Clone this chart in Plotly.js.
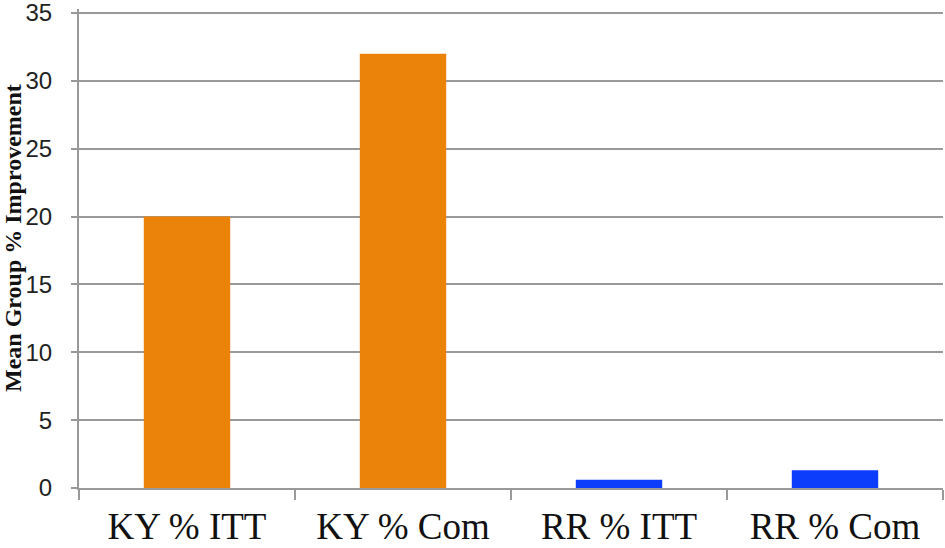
<!DOCTYPE html>
<html>
<head>
<meta charset="utf-8">
<script src="https://cdn.plot.ly/plotly-3.0.1.min.js"></script>
<style>
  html, body { margin: 0; padding: 0; background: #fff; }
  #chart { width: 945px; height: 548px; }
</style>
</head>
<body>
<div id="chart"></div>
<script>
const categories = ["KY % ITT", "KY % Com", "RR % ITT", "RR % Com"];
const improvement = [20, 32, 0.6, 1.3];
const barColors = ["#EB830B", "#EB830B", "#0B3DFB", "#0B3DFB"];
const yTicks = [0, 5, 10, 15, 20, 25, 30, 35];
const yTitle = "Mean Group % Improvement";

Plotly.newPlot("chart", [
    {
        type: "bar",
        x: categories,
        y: improvement,
        width: 0.4,
        marker: { color: barColors },
        hoverinfo: "x+y"
    }
], {
    width: 945,
    height: 548,
    margin: { l: 79, r: 2, t: 9, b: 60 },
    paper_bgcolor: "#fff",
    plot_bgcolor: "#fff",
    showlegend: false,
    xaxis: {
        type: "category",
        showline: true,
        linecolor: "#999",
        linewidth: 2,
        ticks: "outside",
        tickson: "boundaries",
        ticklen: 10,
        tickwidth: 2,
        tickcolor: "#999",
        showgrid: false,
        ticklabelstandoff: 5,
        tickfont: { family: "Liberation Serif, Times New Roman, serif", size: 37, color: "#111" }
    },
    yaxis: {
        // a little headroom so the 35 gridline is drawn
        range: [0, 35.3],
        tickvals: yTicks,
        showline: true,
        linecolor: "#999",
        linewidth: 2,
        ticks: "outside",
        ticklen: 6,
        tickwidth: 2,
        tickcolor: "#999",
        showgrid: true,
        gridcolor: "#999",
        gridwidth: 2,
        zeroline: false,
        ticklabelstandoff: 14,
        ticklabeloverflow: "allow",
        tickfont: { family: "Liberation Sans, Arial, sans-serif", size: 24, color: "#222" }
    },
    // axis title placed by hand: ticklabelstandoff pushes the built-in one onto the labels
    annotations: [
        {
            text: "<b>" + yTitle + "</b>",
            xref: "paper",
            yref: "paper",
            x: 0,
            y: 0.522,
            xanchor: "center",
            yanchor: "middle",
            xshift: -66,
            textangle: -90,
            showarrow: false,
            font: { family: "Liberation Serif, Times New Roman, serif", size: 24, color: "#111" }
        }
    ]
}, { displayModeBar: false });
</script>
</body>
</html>
